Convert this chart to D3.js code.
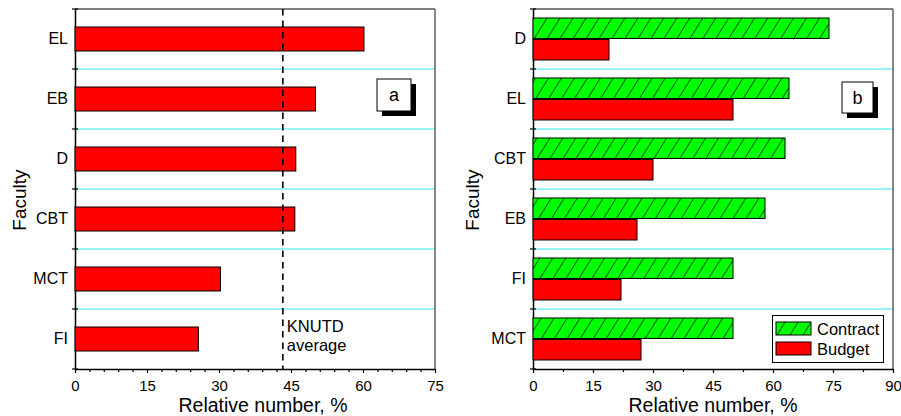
<!DOCTYPE html>
<html>
<head>
<meta charset="utf-8">
<script src="https://cdn.jsdelivr.net/npm/d3@7"></script>
<style>
  html, body { margin: 0; padding: 0; background: #fff; }
  svg { display: block; font-family: "Liberation Sans", Arial, sans-serif; }
</style>
</head>
<body>
<svg id="chart" width="901" height="416"></svg>
<script>
// Panel (a): share of students per faculty, with the university-wide average
const facultiesA = ["EL", "EB", "D", "CBT", "MCT", "FI"];
const valuesA = [60.2, 50.1, 46, 45.8, 30.3, 25.7];
const knutdAverage = 43.3;

// Panel (b): contract vs budget students per faculty
const facultiesB = ["D", "EL", "CBT", "EB", "FI", "MCT"];
const seriesB = ["Contract", "Budget"];
const contractB = [74, 64, 63, 58, 50, 50];
const budgetB = [19, 50, 30, 26, 22, 27];

const ticksA = [0, 15, 30, 45, 60, 75];
const ticksB = [0, 15, 30, 45, 60, 75, 90];

const svg = d3.select("#chart");
const plotTop = 9, plotBottom = 369;
const RED = "#ff0000", GREEN = "#00ff00", CYAN = "#30e8ec";

// diagonal hatch for the contract bars
const defs = svg.append("defs");
const pat = defs.append("pattern")
  .attr("id", "hatch")
  .attr("patternUnits", "userSpaceOnUse")
  .attr("width", 11).attr("height", 11)
  .attr("patternTransform", "rotate(32)");
pat.append("rect").attr("width", 11).attr("height", 11).attr("fill", GREEN);
pat.append("line").attr("x1", 0).attr("y1", 0).attr("x2", 0).attr("y2", 11)
  .attr("stroke", "#000").attr("stroke-width", 1.3);

function frame(g, x0, x1, rows, xScale, tickVals, minorStep, titleX, facX) {
  // cyan separators between faculty rows
  g.append("g").selectAll("line")
    .data(rows.domain().slice(1))
    .join("line")
    .attr("x1", x0).attr("x2", x1)
    .attr("y1", d => rows(d)).attr("y2", d => rows(d))
    .attr("stroke", CYAN).attr("stroke-width", 1);

  // top and right border
  g.append("line").attr("x1", x0).attr("x2", x1).attr("y1", plotTop).attr("y2", plotTop)
    .attr("stroke", "#000").attr("stroke-width", 1.2);
  g.append("line").attr("x1", x1).attr("x2", x1).attr("y1", plotTop).attr("y2", plotBottom)
    .attr("stroke", "#6a6a6a").attr("stroke-width", 1.6);

  // minor x ticks
  const minor = d3.range(0, xScale.domain()[1] + 0.001, minorStep)
    .filter(v => !tickVals.includes(v));
  g.append("g").attr("transform", `translate(0,${plotBottom})`)
    .call(d3.axisBottom(xScale).tickValues(minor).tickFormat("").tickSize(3).tickSizeOuter(0))
    .call(s => s.select(".domain").remove())
    .call(s => s.selectAll("line").attr("stroke-width", 1.2));

  // major x ticks + labels
  g.append("g").attr("transform", `translate(0,${plotBottom})`)
    .call(d3.axisBottom(xScale).tickValues(tickVals).tickSize(4).tickSizeOuter(0).tickPadding(7))
    .call(s => s.select(".domain").attr("stroke-width", 1.5))
    .call(s => s.selectAll("line").attr("stroke-width", 1.2))
    .call(s => s.selectAll("text").attr("font-size", 15).attr("fill", "#000")
      .attr("font-family", "Liberation Sans, Arial, sans-serif"));

  // y axis: category labels centred on rows
  g.append("g").attr("transform", `translate(${x0},0)`)
    .call(d3.axisLeft(rows).tickSize(0).tickPadding(7).tickSizeOuter(0))
    .call(s => s.select(".domain").attr("stroke-width", 1.5))
    .call(s => s.selectAll("text").attr("font-size", 16).attr("fill", "#000")
      .attr("font-family", "Liberation Sans, Arial, sans-serif"));

  // tick marks at row boundaries, crossing the axis
  const bounds = rows.domain().map(d => rows(d)).concat([plotBottom]);
  g.append("g").selectAll("line")
    .data(bounds)
    .join("line")
    .attr("x1", x0 - 3).attr("x2", x0 + 3)
    .attr("y1", d => d).attr("y2", d => d)
    .attr("stroke", "#000").attr("stroke-width", 1.2);

  g.append("text")
    .attr("x", titleX).attr("y", 411.5)
    .attr("text-anchor", "middle").attr("font-size", 19.5)
    .text("Relative number, %");

  g.append("text")
    .attr("transform", `translate(${facX},200) rotate(-90)`)
    .attr("text-anchor", "middle").attr("font-size", 19)
    .text("Faculty");
}

function panelLabel(g, x, y, w, h, txt) {
  g.append("rect").attr("x", x + 5).attr("y", y + 5).attr("width", w).attr("height", h)
    .attr("fill", "#000");
  g.append("rect").attr("x", x).attr("y", y).attr("width", w).attr("height", h)
    .attr("fill", "#fff").attr("stroke", "#000").attr("stroke-width", 1);
  g.append("text").attr("x", x + w / 2).attr("y", y + h / 2 + 6)
    .attr("text-anchor", "middle").attr("font-size", 18).text(txt);
}

// ---------- Panel (a) ----------
{
  const g = svg.append("g");
  const x0 = 75, x1 = 435;
  const x = d3.scaleLinear().domain([0, 75]).range([x0, x1]);
  const rows = d3.scaleBand().domain(facultiesA).range([plotTop, plotBottom]).padding(0);
  const bars = d3.scaleBand().domain(facultiesA).range([plotTop, plotBottom])
    .paddingInner(0.6).paddingOuter(0.3);

  frame(g, x0, x1, rows, x, ticksA, 3, 263, 26);

  g.append("g").selectAll("rect")
    .data(facultiesA.map((f, i) => ({ f, v: valuesA[i] })))
    .join("rect")
    .attr("x", x(0)).attr("y", d => bars(d.f))
    .attr("width", d => x(d.v) - x(0)).attr("height", bars.bandwidth())
    .attr("fill", RED).attr("stroke", "#000").attr("stroke-width", 1);

  // KNUTD average line
  g.append("line")
    .attr("x1", x(knutdAverage)).attr("x2", x(knutdAverage))
    .attr("y1", plotTop).attr("y2", plotBottom)
    .attr("stroke", "#000").attr("stroke-width", 1.6)
    .attr("stroke-dasharray", "6.5,5");
  g.append("text").attr("x", x(knutdAverage) + 4).attr("y", 332)
    .attr("font-size", 16.5).text("KNUTD");
  g.append("text").attr("x", x(knutdAverage) + 4).attr("y", 351)
    .attr("font-size", 16.5).text("average");

  panelLabel(g, 377, 79, 34, 32, "a");
}

// ---------- Panel (b) ----------
{
  const g = svg.append("g");
  const x0 = 533, x1 = 893;
  const x = d3.scaleLinear().domain([0, 90]).range([x0, x1]);
  const rows = d3.scaleBand().domain(facultiesB).range([plotTop, plotBottom]).padding(0);
  const inner = d3.scaleBand().domain(seriesB)
    .range([rows.bandwidth() * 0.15, rows.bandwidth() * 0.85]).paddingInner(0.05);

  frame(g, x0, x1, rows, x, ticksB, 7.5, 713, 479);

  const data = [];
  facultiesB.forEach((f, i) => {
    data.push({ f, s: "Contract", v: contractB[i] });
    data.push({ f, s: "Budget", v: budgetB[i] });
  });

  g.append("g").selectAll("rect")
    .data(data)
    .join("rect")
    .attr("x", x(0)).attr("y", d => rows(d.f) + inner(d.s))
    .attr("width", d => x(d.v) - x(0)).attr("height", inner.bandwidth())
    .attr("fill", d => d.s === "Contract" ? "url(#hatch)" : RED)
    .attr("stroke", "#000").attr("stroke-width", 1);

  panelLabel(g, 842, 82, 31, 31, "b");

  // legend
  const lg = g.append("g");
  lg.append("rect").attr("x", 772.5).attr("y", 315.5).attr("width", 111).attr("height", 47)
    .attr("fill", "#fff").attr("stroke", "#000").attr("stroke-width", 1);
  seriesB.forEach((s, i) => {
    const yy = 322 + i * 20;
    lg.append("rect").attr("x", 776).attr("y", yy).attr("width", 35).attr("height", 13)
      .attr("fill", s === "Contract" ? "url(#hatch)" : RED)
      .attr("stroke", "#000").attr("stroke-width", 1);
    lg.append("text").attr("x", 817).attr("y", yy + 12.5)
      .attr("font-size", 16.5).text(s);
  });
}
</script>
</body>
</html>
